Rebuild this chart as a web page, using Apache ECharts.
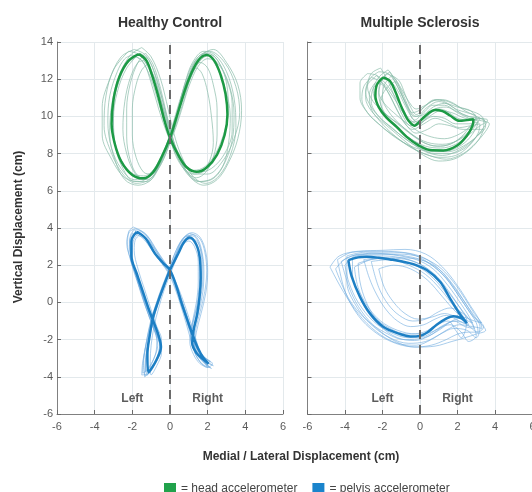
<!DOCTYPE html>
<html>
<head>
<meta charset="utf-8">
<title>Head and pelvis trajectories</title>
<script src="https://cdn.jsdelivr.net/npm/echarts@6/dist/echarts.min.js"></script>
<style>
  html, body { margin: 0; padding: 0; background: #fff; overflow: hidden; }
  #chart { width: 532px; height: 492px; }
</style>
</head>
<body>
<div id="chart"></div>
<script>
// Panel titles, side annotations and axis ranges
const panelTitles = ['Healthy Control', 'Multiple Sclerosis'];
const sideLabels = ['Left', 'Right'];
const xRange = [-6, 6];
const yRange = [-6, 14];
const tickStep = 2;

// Healthy control: head accelerometer, mean trajectory (cm)
const hcHeadMean = [[-1.65,13.35],[-1.25,13.0],[-0.95,12.2],[-0.6,11.0],[-0.3,9.8],[0,8.85],[0.45,7.9],[0.9,7.25],[1.42,7.02],[1.95,7.25],[2.5,7.95],[2.9,9.0],[3.05,10.1],[2.95,11.2],[2.7,12.2],[2.35,13.0],[1.95,13.3],[1.5,13.0],[1.0,12.0],[0.6,10.8],[0.3,9.8],[0,8.85],[-0.45,7.8],[-0.9,7.0],[-1.42,6.67],[-2.0,6.85],[-2.6,7.6],[-2.95,8.6],[-3.1,9.6],[-3.0,10.9],[-2.7,12.1],[-2.2,13.0],[-1.65,13.35]];

// Healthy control: head accelerometer, individual strides
const hcHeadStrides = [
  [[-1.9,13.6],[-1.3,13.3],[-0.8,12.3],[-0.4,10.9],[-0.1,9.6],[0.2,8.6],[0.7,7.6],[1.3,6.9],[2.0,6.9],[2.8,7.6],[3.4,8.8],[3.7,10.2],[3.5,11.6],[2.9,12.9],[2.1,13.5],[1.5,13.2],[1.0,12.2],[0.5,10.8],[0.1,9.4],[-0.3,8.2],[-0.9,7.1],[-1.6,6.5],[-2.4,6.7],[-3.1,7.7],[-3.6,9.0],[-3.6,10.5],[-3.2,12.0],[-2.6,13.2],[-1.9,13.6]],
  [[-1.4,13.0],[-1.0,12.5],[-0.6,11.3],[-0.3,10.0],[0.0,8.9],[0.3,7.9],[0.8,7.1],[1.4,6.7],[1.9,7.0],[2.3,7.8],[2.5,9.0],[2.5,10.4],[2.3,11.7],[2.0,12.6],[1.6,12.9],[1.2,12.5],[0.8,11.5],[0.4,10.2],[0.0,8.9],[-0.4,7.7],[-0.9,6.9],[-1.4,6.6],[-1.9,7.0],[-2.3,8.0],[-2.5,9.3],[-2.4,10.8],[-2.1,12.1],[-1.7,12.9],[-1.4,13.0]],
  [[-1.5,13.7],[-1.0,13.2],[-0.5,12.0],[-0.1,10.4],[0.2,9.1],[0.6,7.9],[1.2,6.8],[1.9,6.4],[2.6,6.8],[3.2,7.9],[3.5,9.4],[3.4,11.0],[3.0,12.4],[2.4,13.3],[1.8,13.5],[1.2,12.9],[0.8,11.8],[0.4,10.3],[0.0,8.9],[-0.5,7.6],[-1.0,6.6],[-1.7,6.3],[-2.4,6.6],[-2.9,7.6],[-3.2,9.0],[-3.1,10.6],[-2.7,12.2],[-2.1,13.3],[-1.5,13.7]],
  [[-1.2,12.8],[-0.8,12.0],[-0.4,10.6],[-0.1,9.4],[0.2,8.5],[0.6,7.6],[1.1,7.1],[1.7,7.2],[2.3,7.8],[2.8,8.9],[3.1,10.3],[3.0,11.8],[2.6,12.9],[2.0,13.4],[1.4,13.0],[0.9,11.9],[0.5,10.5],[0.2,9.3],[-0.2,8.2],[-0.6,7.3],[-1.0,6.9],[-1.4,7.0],[-1.8,7.8],[-2.0,9.0],[-2.0,10.4],[-1.8,11.7],[-1.5,12.5],[-1.2,12.8]],
  [[-2.0,13.3],[-1.5,13.0],[-1.0,12.0],[-0.6,10.7],[-0.2,9.4],[0.2,8.2],[0.7,7.3],[1.2,6.9],[1.7,7.0],[2.1,7.6],[2.3,8.6],[2.2,10.0],[2.0,11.3],[1.7,12.3],[1.4,12.6],[1.1,12.1],[0.7,11.0],[0.3,9.8],[-0.1,8.6],[-0.6,7.4],[-1.2,6.7],[-1.9,6.6],[-2.6,7.2],[-3.1,8.3],[-3.3,9.7],[-3.2,11.1],[-2.8,12.4],[-2.4,13.1],[-2.0,13.3]],
  [[-1.6,13.4],[-1.1,13.0],[-0.7,11.9],[-0.3,10.5],[0.1,9.0],[0.5,7.8],[1.0,6.9],[1.6,6.5],[2.3,6.7],[2.9,7.5],[3.3,8.7],[3.4,10.1],[3.2,11.5],[2.7,12.7],[2.2,13.3],[1.7,13.1],[1.2,12.3],[0.7,11.0],[0.3,9.6],[-0.1,8.3],[-0.6,7.2],[-1.2,6.5],[-1.9,6.5],[-2.5,7.2],[-2.9,8.4],[-3.0,9.9],[-2.8,11.3],[-2.3,12.6],[-1.6,13.4]],
  [[-1.8,13.2],[-1.4,12.9],[-1.0,11.8],[-0.6,10.4],[-0.2,9.2],[0.2,8.3],[0.8,7.4],[1.5,7.0],[2.2,7.2],[2.9,8.0],[3.3,9.2],[3.3,10.7],[3.0,12.0],[2.5,12.9],[2.0,13.1],[1.5,12.7],[1.0,11.6],[0.6,10.3],[0.2,9.1],[-0.3,8.0],[-0.8,7.2],[-1.4,6.8],[-2.1,7.0],[-2.7,7.9],[-3.0,9.2],[-3.0,10.6],[-2.7,11.9],[-2.3,12.8],[-1.8,13.2]],
  [[-1.3,13.4],[-0.9,12.8],[-0.5,11.5],[-0.2,10.2],[0.1,9.0],[0.4,8.0],[0.9,7.0],[1.5,6.5],[2.2,6.6],[2.8,7.3],[3.1,8.5],[3.2,10.0],[2.9,11.6],[2.4,12.8],[1.9,13.4],[1.4,13.1],[0.9,12.1],[0.5,10.7],[0.1,9.3],[-0.3,8.1],[-0.7,7.1],[-1.2,6.6],[-1.7,6.8],[-2.1,7.6],[-2.3,8.9],[-2.3,10.4],[-2.1,11.8],[-1.7,12.9],[-1.3,13.4]],
  [[-2.2,13.5],[-1.6,13.3],[-1.1,12.5],[-0.6,11.2],[-0.2,9.9],[0.1,8.8],[0.5,7.6],[1.1,6.7],[1.8,6.3],[2.5,6.6],[3.1,7.5],[3.6,8.8],[3.8,10.3],[3.6,11.7],[3.0,12.9],[2.3,13.6],[1.7,13.3],[1.2,12.4],[0.8,11.1],[0.4,9.8],[0.0,8.6],[-0.5,7.4],[-1.1,6.6],[-1.8,6.4],[-2.5,6.9],[-3.1,8.0],[-3.5,9.5],[-3.4,11.1],[-3.0,12.5],[-2.2,13.5]]
];

// Healthy control: pelvis accelerometer, mean trajectory (cm)
const hcPelvisMean = [[-1.77,3.8],[-1.3,3.45],[-0.8,2.63],[-0.35,2.1],[0,1.74],[0.35,0.84],[0.6,0.0],[0.92,-0.95],[1.2,-1.75],[1.5,-2.5],[1.75,-2.95],[2.05,-3.3],[1.75,-3.05],[1.42,-2.74],[1.18,-2.2],[1.25,-1.5],[1.45,-0.6],[1.58,0.4],[1.63,1.3],[1.58,2.4],[1.4,3.1],[1.06,3.49],[0.75,3.25],[0.44,2.63],[0.15,2.05],[0,1.74],[-0.35,0.84],[-0.65,0.0],[-0.9,-0.8],[-1.08,-1.8],[-1.2,-2.8],[-1.15,-3.75],[-0.95,-3.5],[-0.72,-3.1],[-0.48,-2.4],[-0.6,-1.8],[-0.85,-1.1],[-1.15,-0.3],[-1.45,0.6],[-1.75,1.5],[-2.05,2.5],[-2.05,3.3],[-1.77,3.8]];

// Healthy control: pelvis accelerometer, individual strides
const hcPelvisStrides = [
  [[-1.95,4.05],[-1.4,3.75],[-0.9,3.0],[-0.45,2.3],[-0.05,1.7],[0.3,0.9],[0.6,0.0],[0.95,-1.0],[1.25,-1.8],[1.55,-2.6],[1.9,-3.1],[2.3,-3.4],[1.9,-3.2],[1.5,-2.8],[1.2,-2.2],[1.3,-1.4],[1.55,-0.4],[1.75,0.6],[1.8,1.7],[1.7,2.7],[1.45,3.45],[1.05,3.7],[0.65,3.4],[0.35,2.7],[0.05,1.9],[-0.3,0.9],[-0.65,-0.1],[-0.95,-1.1],[-1.15,-2.1],[-1.3,-3.1],[-1.35,-4.0],[-1.05,-3.7],[-0.75,-3.2],[-0.5,-2.5],[-0.7,-1.8],[-1.0,-1.0],[-1.35,-0.1],[-1.7,1.0],[-2.05,2.1],[-2.25,3.1],[-2.2,3.8],[-1.95,4.05]],
  [[-1.65,3.6],[-1.2,3.3],[-0.7,2.5],[-0.25,1.9],[0.1,1.4],[0.45,0.6],[0.75,-0.3],[1.05,-1.3],[1.3,-2.2],[1.6,-2.9],[2.0,-3.4],[1.7,-3.1],[1.3,-2.5],[1.1,-1.8],[1.2,-1.0],[1.4,0.0],[1.5,1.1],[1.5,2.2],[1.3,3.0],[1.0,3.3],[0.65,3.05],[0.35,2.4],[0.05,1.6],[-0.3,0.7],[-0.6,-0.3],[-0.85,-1.3],[-1.0,-2.3],[-1.05,-3.2],[-1.0,-3.9],[-0.7,-3.4],[-0.45,-2.7],[-0.45,-2.0],[-0.7,-1.3],[-1.0,-0.4],[-1.35,0.7],[-1.7,1.8],[-1.9,2.8],[-1.85,3.35],[-1.65,3.6]],
  [[-1.9,3.9],[-1.4,3.6],[-0.9,2.8],[-0.4,2.1],[-0.05,1.6],[0.25,0.9],[0.55,0.1],[0.85,-0.9],[1.15,-1.9],[1.45,-2.7],[1.8,-3.2],[2.2,-3.55],[1.85,-3.3],[1.5,-2.9],[1.3,-2.3],[1.35,-1.5],[1.6,-0.5],[1.85,0.6],[1.95,1.7],[1.85,2.7],[1.6,3.4],[1.2,3.65],[0.8,3.4],[0.45,2.8],[0.1,2.0],[-0.25,1.0],[-0.6,0.0],[-0.9,-1.0],[-1.1,-2.0],[-1.25,-3.0],[-1.3,-3.7],[-1.0,-3.3],[-0.75,-2.7],[-0.7,-2.0],[-0.95,-1.2],[-1.3,-0.2],[-1.65,0.9],[-1.95,2.0],[-2.15,3.0],[-2.1,3.6],[-1.9,3.9]],
  [[-1.7,3.7],[-1.25,3.45],[-0.75,2.75],[-0.3,2.1],[0.05,1.6],[0.4,0.8],[0.7,-0.1],[1.0,-1.0],[1.3,-1.9],[1.55,-2.6],[1.85,-3.0],[2.15,-3.2],[1.8,-2.9],[1.45,-2.5],[1.25,-1.9],[1.3,-1.2],[1.5,-0.3],[1.7,0.7],[1.75,1.8],[1.65,2.8],[1.35,3.35],[0.95,3.4],[0.6,3.1],[0.3,2.5],[0.0,1.7],[-0.4,0.7],[-0.75,-0.3],[-1.0,-1.3],[-1.2,-2.3],[-1.3,-3.2],[-1.2,-3.9],[-0.95,-3.55],[-0.65,-2.9],[-0.55,-2.2],[-0.8,-1.5],[-1.1,-0.6],[-1.5,0.5],[-1.85,1.6],[-2.0,2.6],[-1.95,3.3],[-1.7,3.7]],
  [[-1.85,3.95],[-1.3,3.7],[-0.85,3.0],[-0.4,2.3],[-0.05,1.8],[0.3,1.0],[0.65,0.0],[0.95,-0.9],[1.2,-1.7],[1.45,-2.4],[1.75,-2.9],[2.25,-3.3],[2.0,-3.5],[1.6,-3.2],[1.3,-2.5],[1.4,-1.6],[1.65,-0.6],[1.9,0.5],[2.0,1.6],[1.9,2.7],[1.6,3.5],[1.15,3.75],[0.75,3.45],[0.4,2.8],[0.05,1.8],[-0.3,0.9],[-0.7,-0.2],[-1.0,-1.2],[-1.25,-2.2],[-1.45,-3.2],[-1.5,-3.9],[-1.1,-3.8],[-0.8,-3.3],[-0.5,-2.6],[-0.6,-1.9],[-0.95,-1.0],[-1.3,0.0],[-1.7,1.1],[-2.05,2.2],[-2.3,3.2],[-2.15,3.8],[-1.85,3.95]],
  [[-1.6,3.85],[-1.15,3.5],[-0.7,2.8],[-0.3,2.2],[0.0,1.75],[0.35,1.0],[0.7,0.1],[1.0,-0.8],[1.3,-1.7],[1.5,-2.4],[1.7,-2.9],[2.0,-3.5],[1.6,-3.3],[1.25,-2.8],[1.05,-2.1],[1.15,-1.3],[1.4,-0.3],[1.55,0.8],[1.6,1.9],[1.5,2.8],[1.25,3.35],[0.9,3.55],[0.55,3.25],[0.25,2.6],[-0.05,1.8],[-0.4,0.9],[-0.75,-0.1],[-1.05,-1.1],[-1.25,-2.1],[-1.4,-3.0],[-1.45,-3.8],[-1.15,-3.6],[-0.85,-3.0],[-0.65,-2.3],[-0.8,-1.6],[-1.1,-0.8],[-1.45,0.3],[-1.8,1.4],[-2.1,2.5],[-2.0,3.4],[-1.6,3.85]],
  [[-2.0,3.7],[-1.5,3.5],[-0.95,2.8],[-0.45,2.1],[-0.1,1.6],[0.25,0.8],[0.55,-0.1],[0.85,-1.1],[1.1,-2.0],[1.35,-2.8],[1.7,-3.3],[2.1,-3.5],[1.75,-3.0],[1.35,-2.6],[1.1,-2.0],[1.2,-1.2],[1.45,-0.2],[1.65,0.8],[1.7,1.9],[1.6,2.9],[1.35,3.5],[0.95,3.6],[0.55,3.2],[0.2,2.5],[-0.1,1.6],[-0.45,0.6],[-0.8,-0.4],[-1.1,-1.4],[-1.3,-2.4],[-1.4,-3.3],[-1.3,-3.95],[-1.0,-3.6],[-0.7,-3.0],[-0.55,-2.3],[-0.75,-1.6],[-1.05,-0.7],[-1.4,0.4],[-1.75,1.5],[-2.1,2.6],[-2.15,3.3],[-2.0,3.7]]
];

// Multiple sclerosis: head accelerometer, mean trajectory (cm)
const msHeadMean = [[-1.96,12.1],[-2.3,11.7],[-2.38,11.1],[-2.2,10.5],[-1.8,9.95],[-1.24,9.44],[-0.71,8.9],[-0.1,8.46],[0.53,8.19],[1.24,8.17],[1.96,8.42],[2.49,8.95],[2.8,9.5],[2.85,9.85],[2.5,9.8],[2.1,9.76],[1.6,10.05],[1.2,10.28],[0.8,10.34],[0.44,10.16],[0.05,9.8],[-0.3,9.5],[-0.6,9.75],[-0.85,10.2],[-1.07,10.7],[-1.3,11.3],[-1.6,11.9],[-1.96,12.1]];

// Multiple sclerosis: head accelerometer, individual strides
const msHeadStrides = [
  [[-2.2,12.4],[-2.7,12.0],[-2.9,11.3],[-2.6,10.5],[-2.0,9.8],[-1.3,9.2],[-0.5,8.6],[0.3,8.1],[1.2,7.9],[2.1,8.2],[2.9,8.8],[3.4,9.4],[3.6,9.8],[3.0,9.9],[2.3,10.1],[1.6,10.6],[1.0,10.8],[0.4,10.5],[-0.2,10.0],[-0.6,10.4],[-0.9,11.0],[-1.3,11.8],[-1.7,12.3],[-2.2,12.4]],
  [[-1.7,12.5],[-2.2,12.1],[-2.5,11.4],[-2.3,10.7],[-1.8,10.1],[-1.0,9.5],[-0.3,8.9],[0.4,8.5],[1.1,8.4],[1.8,8.6],[2.5,9.1],[3.0,9.6],[3.2,9.9],[2.6,10.0],[1.9,10.3],[1.3,10.6],[0.7,10.6],[0.2,10.2],[-0.3,9.8],[-0.6,10.3],[-0.9,11.0],[-1.2,11.8],[-1.7,12.5]],
  [[-2.4,11.8],[-2.7,11.2],[-2.6,10.4],[-2.1,9.7],[-1.4,9.0],[-0.6,8.4],[0.2,8.0],[1.0,7.8],[1.9,7.9],[2.6,8.4],[3.1,9.1],[3.2,9.6],[2.7,9.5],[2.1,9.4],[1.4,9.7],[0.8,9.9],[0.2,9.6],[-0.4,9.3],[-0.8,9.6],[-1.2,10.3],[-1.6,11.1],[-2.0,11.7],[-2.4,11.8]],
  [[-1.5,12.2],[-1.9,11.7],[-2.0,11.0],[-1.7,10.3],[-1.1,9.6],[-0.5,9.1],[0.2,8.6],[0.9,8.4],[1.6,8.5],[2.2,8.9],[2.7,9.5],[3.0,10.0],[2.5,10.2],[1.9,10.4],[1.3,10.8],[0.8,10.9],[0.3,10.6],[-0.2,10.1],[-0.5,10.5],[-0.8,11.2],[-1.1,11.9],[-1.5,12.2]],
  [[-2.0,12.0],[-2.5,11.5],[-2.6,10.8],[-2.2,10.0],[-1.5,9.4],[-0.8,8.8],[0.0,8.3],[0.8,8.0],[1.6,8.0],[2.4,8.3],[3.0,8.9],[3.4,9.5],[3.3,9.9],[2.7,9.8],[2.0,9.9],[1.4,10.3],[0.9,10.4],[0.4,10.0],[0.0,9.6],[-0.4,9.9],[-0.8,10.6],[-1.2,11.4],[-1.6,11.9],[-2.0,12.0]],
  [[-2.6,12.1],[-3.0,11.6],[-3.1,10.9],[-2.8,10.2],[-2.2,9.6],[-1.5,9.0],[-0.7,8.5],[0.1,8.2],[0.9,8.1],[1.7,8.2],[2.4,8.6],[2.9,9.2],[3.1,9.7],[2.6,9.9],[2.0,10.2],[1.4,10.5],[0.8,10.4],[0.2,9.9],[-0.4,9.7],[-0.9,10.2],[-1.4,11.0],[-2.0,11.8],[-2.6,12.1]],
  [[-1.3,11.9],[-1.8,11.5],[-2.1,10.8],[-1.9,10.1],[-1.3,9.4],[-0.5,8.8],[0.3,8.4],[1.1,8.3],[1.9,8.5],[2.6,9.0],[3.2,9.5],[3.5,9.7],[3.0,10.0],[2.4,10.3],[1.8,10.7],[1.2,10.9],[0.6,10.8],[0.1,10.4],[-0.4,10.2],[-0.7,10.7],[-1.0,11.4],[-1.3,11.9]],
  [[-2.1,12.6],[-2.6,12.3],[-2.8,11.6],[-2.5,10.8],[-1.9,10.2],[-1.2,9.6],[-0.4,9.0],[0.4,8.6],[1.2,8.5],[2.0,8.7],[2.7,9.2],[3.1,9.7],[2.6,9.6],[1.9,9.6],[1.3,9.9],[0.7,10.0],[0.1,9.7],[-0.5,9.5],[-0.9,10.0],[-1.3,10.9],[-1.7,11.9],[-2.1,12.6]],
  [[-2.8,12.3],[-3.2,11.8],[-3.2,11.0],[-2.8,10.2],[-2.1,9.5],[-1.3,8.9],[-0.4,8.3],[0.5,7.9],[1.4,7.7],[2.3,8.0],[3.0,8.6],[3.5,9.2],[3.7,9.6],[3.1,9.8],[2.4,9.9],[1.7,10.2],[1.1,10.3],[0.5,10.0],[-0.1,9.6],[-0.6,9.9],[-1.1,10.7],[-1.7,11.6],[-2.3,12.2],[-2.8,12.3]],
  [[-1.8,12.3],[-2.1,11.9],[-2.2,11.3],[-1.9,10.7],[-1.4,10.2],[-0.8,9.7],[-0.1,9.2],[0.6,8.9],[1.3,8.8],[2.0,9.0],[2.6,9.4],[3.0,9.9],[2.7,10.3],[2.1,10.5],[1.5,10.8],[0.9,10.9],[0.3,10.6],[-0.2,10.4],[-0.6,10.8],[-1.0,11.5],[-1.4,12.1],[-1.8,12.3]],
  [[-2.3,12.2],[-2.8,11.7],[-2.9,11.0],[-2.6,10.3],[-2.0,9.7],[-1.3,9.1],[-0.6,8.5],[0.2,7.9],[1.0,7.6],[1.8,7.7],[2.5,8.1],[3.1,8.7],[3.4,9.3],[2.9,9.3],[2.3,9.3],[1.6,9.5],[1.0,9.6],[0.4,9.3],[-0.2,9.1],[-0.7,9.5],[-1.2,10.3],[-1.7,11.3],[-2.3,12.2]],
  [[-1.6,12.4],[-2.0,12.0],[-2.2,11.2],[-2.0,10.4],[-1.5,9.7],[-0.9,9.1],[-0.2,8.6],[0.6,8.2],[1.5,8.1],[2.3,8.4],[3.0,8.9],[3.5,9.5],[3.3,10.0],[2.7,10.3],[2.0,10.5],[1.3,10.7],[0.7,10.5],[0.2,10.1],[-0.3,10.0],[-0.7,10.6],[-1.1,11.4],[-1.6,12.4]]
];

// Multiple sclerosis: pelvis accelerometer, mean trajectory (cm)
const msPelvisMean = [[-3.82,2.27],[-3.3,2.42],[-2.84,2.45],[-2.2,2.4],[-1.6,2.31],[-0.95,2.2],[-0.36,2.06],[0.36,1.74],[1.07,1.11],[1.6,0.22],[2.04,-0.5],[2.4,-1.0],[2.5,-1.12],[2.22,-0.86],[1.78,-0.74],[1.42,-0.86],[0.89,-1.2],[0.44,-1.58],[0.0,-1.8],[-0.5,-1.83],[-1.07,-1.7],[-1.96,-1.31],[-2.67,-0.59],[-3.2,0.3],[-3.64,1.38],[-3.82,2.27]];

// Multiple sclerosis: pelvis accelerometer, individual strides
const msPelvisStrides = [
  [[-4.8,1.9],[-4.3,2.5],[-3.3,2.75],[-2.0,2.8],[-0.8,2.85],[0.3,2.6],[1.2,1.9],[2.0,0.9],[2.7,-0.2],[3.2,-1.0],[3.3,-1.4],[2.8,-1.3],[2.1,-1.2],[1.4,-1.5],[0.6,-2.0],[-0.2,-2.3],[-1.2,-2.2],[-2.3,-1.6],[-3.3,-0.6],[-4.1,0.6],[-4.8,1.9]],
  [[-3.6,2.4],[-2.6,2.65],[-1.4,2.55],[-0.2,2.3],[0.7,1.8],[1.5,0.9],[2.2,-0.1],[2.7,-0.9],[2.9,-1.4],[2.4,-1.3],[1.8,-1.0],[1.2,-1.3],[0.5,-1.8],[-0.3,-2.05],[-1.2,-1.9],[-2.1,-1.3],[-2.8,-0.5],[-3.3,0.5],[-3.6,1.5],[-3.6,2.4]],
  [[-3.0,2.3],[-2.0,2.4],[-0.9,2.2],[0.1,1.8],[0.9,1.1],[1.6,0.2],[2.2,-0.6],[2.6,-1.2],[2.1,-1.0],[1.4,-0.7],[0.8,-0.9],[0.2,-1.2],[-0.5,-1.3],[-1.2,-1.0],[-1.8,-0.4],[-2.3,0.4],[-2.7,1.3],[-3.0,2.3]],
  [[-4.2,2.2],[-3.2,2.6],[-2.0,2.6],[-0.8,2.5],[0.3,2.2],[1.2,1.5],[1.9,0.6],[2.5,-0.3],[3.0,-1.1],[3.1,-1.6],[2.6,-1.6],[2.0,-1.7],[1.4,-2.0],[0.6,-2.3],[-0.3,-2.4],[-1.3,-2.1],[-2.3,-1.4],[-3.1,-0.5],[-3.7,0.6],[-4.2,2.2]],
  [[-2.6,2.2],[-1.6,2.3],[-0.6,2.0],[0.3,1.5],[1.1,0.7],[1.8,-0.2],[2.4,-0.9],[2.8,-1.1],[2.3,-0.6],[1.6,-0.3],[1.0,-0.5],[0.3,-0.9],[-0.4,-1.0],[-1.1,-0.7],[-1.7,-0.1],[-2.2,0.8],[-2.6,2.2]],
  [[-3.9,2.5],[-2.9,2.7],[-1.7,2.7],[-0.5,2.6],[0.5,2.1],[1.4,1.3],[2.1,0.3],[2.7,-0.6],[3.2,-1.3],[3.0,-1.9],[2.5,-1.5],[1.8,-1.4],[1.1,-1.7],[0.3,-2.1],[-0.6,-2.2],[-1.6,-1.9],[-2.6,-1.2],[-3.4,-0.2],[-3.9,1.1],[-3.9,2.5]],
  [[-3.3,2.1],[-2.3,2.35],[-1.1,2.35],[0.0,2.05],[0.9,1.4],[1.6,0.5],[2.2,-0.4],[2.5,-1.0],[2.2,-1.9],[1.9,-1.5],[1.5,-1.0],[0.9,-1.2],[0.2,-1.6],[-0.7,-1.7],[-1.6,-1.4],[-2.4,-0.8],[-2.9,0.1],[-3.2,1.1],[-3.3,2.1]],
  [[-4.5,1.8],[-3.9,2.4],[-2.8,2.6],[-1.5,2.6],[-0.2,2.5],[0.9,2.0],[1.7,1.2],[2.4,0.2],[2.9,-0.6],[3.3,-1.1],[2.9,-1.0],[2.3,-0.8],[1.7,-1.0],[1.0,-1.5],[0.2,-1.9],[-0.8,-2.0],[-1.9,-1.6],[-2.9,-0.9],[-3.8,0.2],[-4.5,1.8]],
  [[-4.0,2.0],[-3.4,2.5],[-2.3,2.5],[-1.0,2.4],[0.1,2.0],[1.0,1.2],[1.7,0.3],[2.3,-0.5],[2.8,-1.2],[3.0,-1.8],[2.6,-2.1],[2.2,-1.6],[1.6,-1.2],[1.0,-1.4],[0.3,-1.8],[-0.6,-1.9],[-1.6,-1.6],[-2.5,-1.0],[-3.3,0.0],[-3.8,1.1],[-4.0,2.0]],
  [[-3.5,1.9],[-2.6,2.3],[-1.3,2.4],[0.0,2.3],[1.0,1.8],[1.8,0.9],[2.4,0.0],[2.9,-0.8],[3.4,-1.3],[3.1,-1.6],[2.5,-1.2],[1.9,-1.0],[1.3,-1.2],[0.6,-1.6],[-0.2,-1.7],[-1.2,-1.5],[-2.1,-1.0],[-2.8,-0.2],[-3.3,0.8],[-3.5,1.9]],
  [[-2.2,1.8],[-1.4,2.0],[-0.5,1.8],[0.4,1.2],[1.2,0.3],[1.9,-0.5],[2.5,-1.0],[2.0,-0.8],[1.3,-0.6],[0.6,-0.8],[-0.1,-0.9],[-0.8,-0.6],[-1.4,0.0],[-1.9,0.8],[-2.2,1.8]],
  [[-4.4,2.3],[-3.6,2.7],[-2.4,2.75],[-1.0,2.7],[0.2,2.4],[1.1,1.7],[1.9,0.7],[2.6,-0.3],[3.1,-1.0],[3.5,-1.5],[3.0,-1.7],[2.4,-1.9],[1.7,-2.1],[0.8,-2.35],[-0.2,-2.4],[-1.3,-2.2],[-2.4,-1.6],[-3.3,-0.7],[-4.0,0.6],[-4.4,2.3]]
];

const HEAD = '= head accelerometer';
const PELVIS = '= pelvis accelerometer';
const FONT = '"Liberation Sans", Arial, Helvetica, sans-serif';

const palette = {
  headMean: '#1c9a45',
  headLegend: '#21a24b',
  headStride: 'rgba(138,188,170,0.7)',
  pelvisMean: '#1d7fc4',
  pelvisLegend: '#1a84cc',
  pelvisStride: 'rgba(112,172,224,0.6)'
};

const chart = echarts.init(document.getElementById('chart'), null, { renderer: 'canvas' });

function strideSeries(points, grid, color) {
  return {
    type: 'line', xAxisIndex: grid, yAxisIndex: grid,
    data: points, showSymbol: false, symbol: 'none', smooth: 0.35,
    silent: true, z: 2,
    lineStyle: { width: 1, color: color }
  };
}

function meanSeries(name, points, grid, lineColor, legendColor) {
  return {
    name: name, type: 'line', xAxisIndex: grid, yAxisIndex: grid,
    data: points, showSymbol: false, symbol: 'none', smooth: 0.35,
    silent: true, z: 4,
    itemStyle: { color: legendColor },
    lineStyle: { width: 2.5, color: lineColor }
  };
}

function midlineSeries(grid) {
  return {
    type: 'line', xAxisIndex: grid, yAxisIndex: grid, data: [], z: 3, silent: true,
    markLine: {
      silent: true, symbol: ['none', 'none'], animation: false,
      label: { show: false },
      lineStyle: { type: [9, 6], color: '#6b6b6b', width: 2 },
      data: [{ xAxis: 0 }]
    }
  };
}

function sideLabelSeries(grid) {
  return {
    type: 'scatter', xAxisIndex: grid, yAxisIndex: grid, symbolSize: 0, silent: true, z: 5,
    data: sideLabels.map((t, i) => ({ name: t, value: [i === 0 ? -2 : 2, -5.15] })),
    label: {
      show: true, position: 'inside', formatter: p => p.name,
      fontFamily: FONT, fontWeight: 'bold', fontSize: 12, color: '#333'
    }
  };
}

function xAxisFor(grid) {
  return {
    gridIndex: grid, type: 'value', min: xRange[0], max: xRange[1], interval: tickStep,
    axisLine: { show: true, onZero: false, lineStyle: { color: '#808080', width: 1 } },
    axisTick: { show: true, inside: true, length: 4, lineStyle: { color: '#6a6a6a' } },
    axisLabel: { fontFamily: FONT, fontSize: 11, color: '#5a5a5a', margin: 7 },
    splitLine: { show: true, lineStyle: { color: '#e3e9ec', width: 1 } }
  };
}

function yAxisFor(grid, showLabels) {
  return {
    gridIndex: grid, type: 'value', min: yRange[0], max: yRange[1], interval: tickStep,
    axisLine: { show: true, onZero: false, lineStyle: { color: '#808080', width: 1 } },
    axisTick: { show: true, inside: true, length: 4, lineStyle: { color: '#6a6a6a' } },
    axisLabel: { show: showLabels, fontFamily: FONT, fontSize: 11, color: '#5a5a5a', margin: 4 },
    splitLine: { show: true, lineStyle: { color: '#e3e9ec', width: 1 } }
  };
}

const series = [];
hcHeadStrides.forEach(s => series.push(strideSeries(s, 0, palette.headStride)));
hcPelvisStrides.forEach(s => series.push(strideSeries(s, 0, palette.pelvisStride)));
msHeadStrides.forEach(s => series.push(strideSeries(s, 1, palette.headStride)));
msPelvisStrides.forEach(s => series.push(strideSeries(s, 1, palette.pelvisStride)));
series.push(midlineSeries(0), midlineSeries(1));
series.push(meanSeries(HEAD, hcHeadMean, 0, palette.headMean, palette.headLegend));
series.push(meanSeries(PELVIS, hcPelvisMean, 0, palette.pelvisMean, palette.pelvisLegend));
series.push(meanSeries(HEAD, msHeadMean, 1, palette.headMean, palette.headLegend));
series.push(meanSeries(PELVIS, msPelvisMean, 1, palette.pelvisMean, palette.pelvisLegend));
series.push(sideLabelSeries(0), sideLabelSeries(1));

const textStyle = (size, weight) => ({
  font: weight + ' ' + size + 'px ' + FONT, fill: '#333',
  textAlign: 'center', textVerticalAlign: 'middle'
});

chart.setOption({
  animation: false,
  backgroundColor: '#ffffff',
  grid: [
    { left: 57, top: 42, width: 226, height: 372, outerBoundsMode: 'none', containLabel: false },
    { left: 307.5, top: 42, width: 225, height: 372, outerBoundsMode: 'none', containLabel: false }
  ],
  xAxis: [xAxisFor(0), xAxisFor(1)],
  yAxis: [yAxisFor(0, true), yAxisFor(1, false)],
  legend: {
    data: [HEAD, PELVIS], icon: 'rect', left: 164, top: 483, padding: 0,
    itemWidth: 12, itemHeight: 12, itemGap: 15, selectedMode: false,
    textStyle: { fontFamily: FONT, fontSize: 12, color: '#444' }
  },
  graphic: [
    { type: 'text', x: 170, y: 23, style: Object.assign({ text: panelTitles[0] }, textStyle(14, 'bold')) },
    { type: 'text', x: 420, y: 23, style: Object.assign({ text: panelTitles[1] }, textStyle(14, 'bold')) },
    { type: 'text', x: 19, y: 227, rotation: Math.PI / 2,
      style: Object.assign({ text: 'Vertical Displacement (cm)' }, textStyle(12, 'bold')) },
    { type: 'text', x: 301, y: 457,
      style: Object.assign({ text: 'Medial / Lateral Displacement (cm)' }, textStyle(12, 'bold')) }
  ],
  series: series
});
</script>
</body>
</html>
